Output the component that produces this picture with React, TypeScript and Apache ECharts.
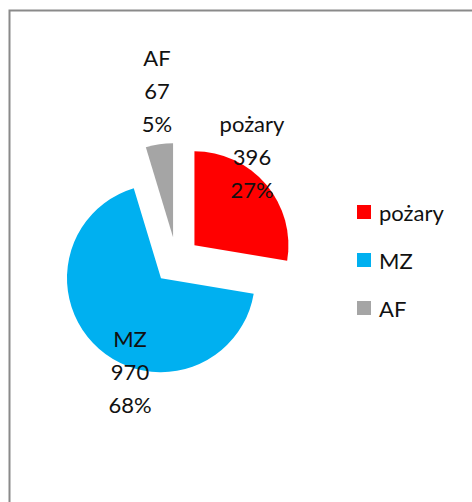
import React, { useEffect, useRef } from "react";
import * as echarts from "echarts";

const categories = ["pożary", "MZ", "AF"];
const values = [396, 970, 67];
const colors = ["#FF0000", "#00B0F0", "#A5A5A5"];
const labelSpots: [number, number][] = [
  [252, 156],
  [130, 371],
  [157, 90],
];

function percents(vals: number[]): number[] {
  const total = vals.reduce((a, b) => a + b, 0);
  const raw = vals.map((v) => (v / total) * 100);
  const fl = raw.map((r) => Math.floor(r));
  let rest = 100 - fl.reduce((a, b) => a + b, 0);
  const order = raw
    .map((r, i) => ({ i, rem: r - Math.floor(r) }))
    .sort((a, b) => b.rem - a.rem);
  for (let k = 0; k < order.length && rest > 0; k++, rest--) fl[order[k].i] += 1;
  return fl;
}

export default function App() {
  const ref = useRef<HTMLDivElement>(null);
  useEffect(() => {
    if (!ref.current) return;
    const chart = echarts.init(ref.current, undefined, { renderer: "svg" });
    const font = "Lato, 'Noto Sans', sans-serif";
    const pct = percents(values);
    chart.setOption({
      animation: false,
      backgroundColor: "#ffffff",
      graphic: [
        {
          type: "rect",
          shape: { x: 9.5, y: 10.5, width: 520, height: 540 },
          style: { fill: "none", stroke: "#8a8a8a", lineWidth: 2 },
          silent: true,
        },
        ...categories.map((c, i) => ({
          type: "text",
          x: labelSpots[i][0],
          y: labelSpots[i][1],
          z: 10,
          silent: true,
          style: {
            text: `${c}\n${values[i]}\n${pct[i]}%`,
            fontFamily: font,
            fontSize: 22,
            lineHeight: 33,
            fill: "#111",
            align: "center",
            verticalAlign: "middle",
          },
        })),
      ],
      legend: {
        orient: "vertical",
        left: 357,
        top: 201,
        padding: 0,
        itemWidth: 14,
        itemHeight: 14,
        itemGap: 26,
        icon: "rect",
        selectedMode: false,
        textStyle: { fontFamily: font, fontSize: 22, color: "#111", padding: [0, 0, 0, 3] },
        data: categories,
      },
      series: [
        {
          type: "pie",
          center: [176.5, 260.5],
          radius: 94,
          startAngle: 90,
          clockwise: true,
          selectedMode: "multiple",
          selectedOffset: 23.5,
          label: { show: false },
          labelLine: { show: false },
          emphasis: { disabled: true },
          data: categories.map((c, i) => ({
            name: c,
            value: values[i],
            selected: true,
            itemStyle: { color: colors[i], borderWidth: 0 },
            select: { itemStyle: { color: colors[i], borderWidth: 0 } },
          })),
        },
      ],
    });
    return () => chart.dispose();
  }, []);
  return (
    <div
      ref={ref}
      style={{ position: "absolute", left: 0, top: 0, width: 472, height: 502 }}
    />
  );
}
